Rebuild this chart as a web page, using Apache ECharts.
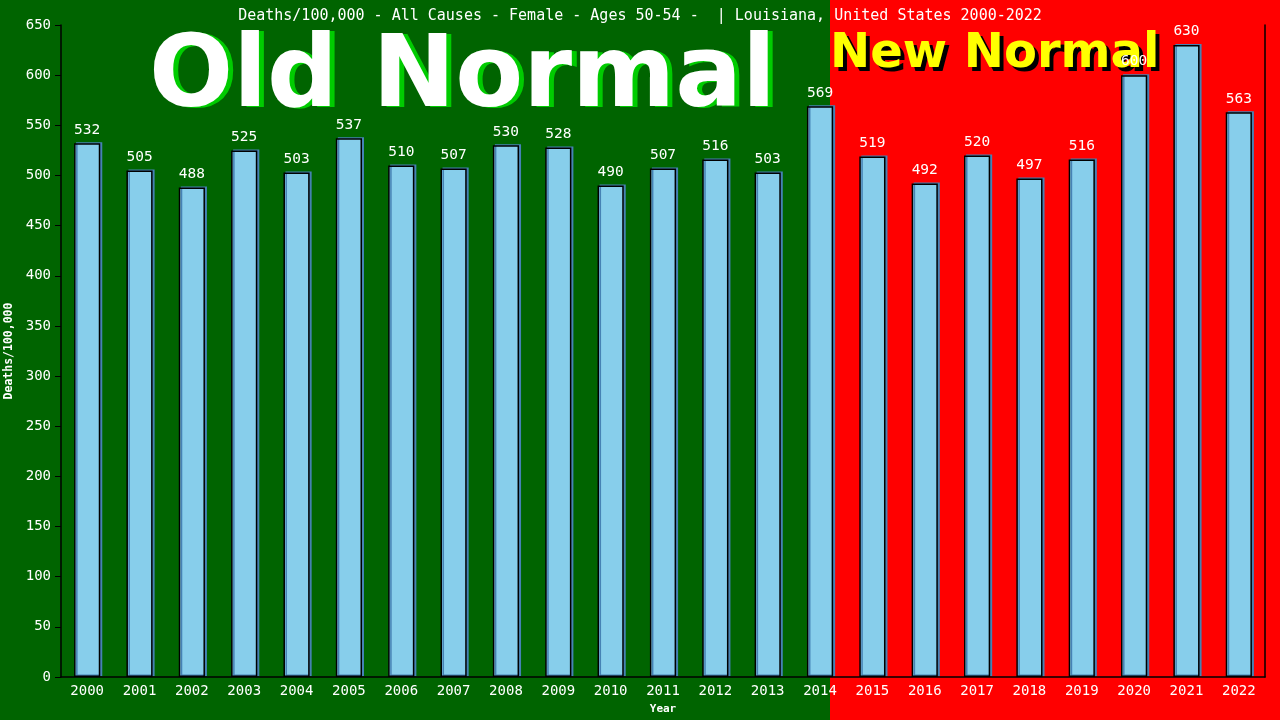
<!DOCTYPE html>
<html><head><meta charset="utf-8">
<script src="https://cdn.jsdelivr.net/npm/echarts@6/dist/echarts.min.js"></script>
<style>html,body{margin:0;padding:0;background:#006400}#c{width:1280px;height:720px}</style>
</head><body><div id="c"></div>
<script>
const years = ['2000','2001','2002','2003','2004','2005','2006','2007','2008','2009','2010','2011','2012','2013','2014','2015','2016','2017','2018','2019','2020','2021','2022'];
const deaths = [532,505,488,525,503,537,510,507,530,528,490,507,516,503,569,519,492,520,497,516,600,630,563];
const titleText = 'Deaths/100,000 - All Causes - Female - Ages 50-54 -  | Louisiana, United States 2000-2022';
const yName = 'Deaths/100,000';
const xName = 'Year';

const mono = 'DejaVu Sans Mono';
const chart = echarts.init(document.getElementById('c'), null, {renderer:'canvas'});
chart.setOption({
  backgroundColor: '#006400',
  animation: false,
  title: {text: titleText, left: 'center', top: 4,
    textStyle: {color:'#fff', fontFamily: mono, fontSize: 15, fontWeight: 'normal'}},
  graphic: {elements: [
    {type:'rect', z:-100, zlevel:0, shape:{x:0,y:0,width:830,height:720}, style:{fill:'#006400'}, silent:true},
    {type:'rect', z:-100, zlevel:0, shape:{x:830,y:0,width:450,height:720}, style:{fill:'#ff0000'}, silent:true},
    {type:'text', z:-50, left:154, top:32, style:{text:'Old Normal', fill:'#00cc00', font:'bold 99px "DejaVu Sans"'}, silent:true},
    {type:'text', z:-49, left:149, top:31, style:{text:'Old Normal', fill:'#ffffff', font:'bold 99px "DejaVu Sans"'}, silent:true},
    {type:'text', z:-50, left:834, top:35, style:{text:'New Normal', fill:'#000000', font:'bold 48px "DejaVu Sans"'}, silent:true},
    {type:'text', z:-49, left:830, top:31, style:{text:'New Normal', fill:'#ffff00', font:'bold 48px "DejaVu Sans"'}, silent:true}
  ]},
  grid: {left:61, right:15, top:25, bottom:43, outerBoundsMode:'none', containLabel:false},
  xAxis: {type:'category', data: years, name: xName, nameLocation:'middle', nameGap: 27,
    nameTextStyle:{color:'#fff', fontFamily: mono, fontSize: 11, fontWeight:'bold'},
    axisLine:{lineStyle:{color:'#000', width:1.5}}, axisTick:{show:false},
    axisLabel:{color:'#fff', fontFamily: mono, fontSize: 14, margin: 7}},
  yAxis: [{type:'value', min:0, max:650, interval:50, name: yName, nameLocation:'middle', nameGap: 36,
    nameTextStyle:{color:'#fff', fontFamily: mono, fontSize: 11.5, fontWeight:'bold'},
    axisLine:{show:true, lineStyle:{color:'#000', width:1.5}}, axisTick:{show:true, length:6, lineStyle:{color:'#000'}},
    splitLine:{show:false},
    axisLabel:{color:'#fff', fontFamily: mono, fontSize: 14, margin: 10}},
   {type:'value', min:0, max:650, interval:50, position:'right',
    axisLine:{show:true, lineStyle:{color:'#000', width:1.5}}, axisTick:{show:false}, axisLabel:{show:false}, splitLine:{show:false}}],
  series: [{type:'bar', data: deaths, barWidth:'50%',
    itemStyle:{color:'#87CEEB', borderColor:'#000', borderWidth:1.5,
      shadowColor:'#4682B4', shadowOffsetX:2, shadowOffsetY:-1, shadowBlur:0},
    label:{show:true, position:'top', distance:6, color:'#fff', fontFamily: mono, fontSize: 14.5}}]
});
</script></body></html>
